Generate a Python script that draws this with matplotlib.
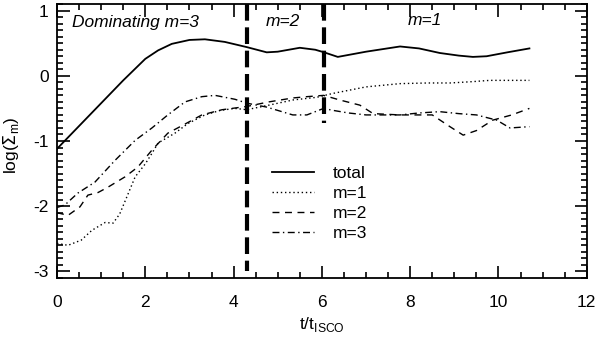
import matplotlib
matplotlib.use("Agg")
import matplotlib.pyplot as plt
from matplotlib.ticker import MultipleLocator

plt.rcParams["font.family"] = ["Liberation Sans", "DejaVu Sans"]
plt.rcParams["axes.unicode_minus"] = False

# ---- data ----
t_total = [0.0, 0.5, 1.0, 1.5, 2.0, 2.29, 2.6, 3.0, 3.35, 3.8, 4.3, 4.75, 5.0, 5.5,
           5.85, 6.05, 6.36, 7.0, 7.77, 8.2, 8.67, 9.1, 9.42, 9.73, 10.2, 10.7]
y_total = [-1.12, -0.77, -0.42, -0.07, 0.26, 0.39, 0.49, 0.55, 0.56, 0.52, 0.44, 0.36, 0.37, 0.43,
           0.40, 0.36, 0.29, 0.37, 0.45, 0.42, 0.35, 0.31, 0.29, 0.30, 0.36, 0.42]

t_m1 = [0.0, 0.25, 0.55, 0.79, 1.09, 1.27, 1.42, 1.58, 1.77, 2.0, 2.15, 2.29, 2.67, 2.97,
        3.35, 3.7, 4.03, 4.3, 4.8, 5.35, 5.88, 6.25, 7.0, 7.77, 8.4, 8.9, 9.4, 9.8, 10.7]
y_m1 = [-2.57, -2.6, -2.52, -2.37, -2.25, -2.26, -2.12, -1.86, -1.55, -1.35, -1.19, -1.03, -0.88, -0.73,
        -0.6, -0.53, -0.5, -0.52, -0.45, -0.37, -0.33, -0.27, -0.17, -0.12, -0.11, -0.11, -0.09, -0.07, -0.07]

t_m2 = [0.0, 0.25, 0.52, 0.7, 0.93, 1.15, 1.54, 1.83, 2.15, 2.51, 2.9, 3.28, 3.74, 4.3,
        4.8, 5.34, 5.66, 6.04, 6.4, 6.86, 7.16, 7.77, 8.5, 8.9, 9.2, 9.5, 9.87, 10.3, 10.7]
y_m2 = [-2.1, -2.14, -2.01, -1.83, -1.79, -1.71, -1.55, -1.4, -1.14, -0.88, -0.74, -0.6, -0.52, -0.47,
        -0.4, -0.34, -0.32, -0.3, -0.37, -0.45, -0.58, -0.6, -0.6, -0.78, -0.91, -0.84, -0.68, -0.6, -0.5]

t_m3 = [0.0, 0.18, 0.47, 0.86, 1.31, 1.77, 2.15, 2.51, 2.9, 3.28, 3.58, 4.03, 4.3, 4.75,
        5.34, 5.66, 6.04, 6.25, 6.6, 7.0, 7.77, 8.2, 8.67, 9.1, 9.5, 9.96, 10.26, 10.7]
y_m3 = [-2.02, -1.98, -1.8, -1.63, -1.3, -0.99, -0.8, -0.6, -0.4, -0.32, -0.3, -0.36, -0.42, -0.48,
        -0.6, -0.6, -0.5, -0.53, -0.57, -0.6, -0.6, -0.57, -0.55, -0.58, -0.6, -0.68, -0.8, -0.78]

# phase boundaries: (x position, lower end of the marker line)
bound_x = [4.3, 6.05]
bound_ymin = [-3.0, -0.72]

phase_labels = ["Dominating m=3", "m=2", "m=1"]
phase_x = [0.35, 5.12, 8.33]
phase_y = [0.82, 0.84, 0.85]

fig = plt.figure(figsize=(6.0, 3.41), dpi=100)
ax = fig.add_axes([0.095, 0.185, 0.883, 0.803])

ax.plot(t_total, y_total, color="black", lw=1.3, ls="-", label="total")
ax.plot(t_m1, y_m1, color="black", lw=1.0, ls=(0, (1, 2)), label="m=1")
ax.plot(t_m2, y_m2, color="black", lw=1.0, ls=(0, (5, 4)), label="m=2")
ax.plot(t_m3, y_m3, color="black", lw=1.0, ls=(0, (5, 2.5, 1, 2.5)), label="m=3")

for bx, bmin in zip(bound_x, bound_ymin):
    ax.plot([bx, bx], [1.1, bmin], color="black", lw=3.0, ls=(0, (4, 1.6)))

for lab, px, py in zip(phase_labels, phase_x, phase_y):
    ha = "left" if px < 1 else "center"
    ax.text(px, py, lab, style="italic", fontsize=12.5, ha=ha, va="center")

ax.set_xlim(0, 12)
ax.set_ylim(-3.1, 1.1)
ax.xaxis.set_major_locator(MultipleLocator(2))
ax.xaxis.set_minor_locator(MultipleLocator(0.5))
ax.yaxis.set_major_locator(MultipleLocator(1))
ax.yaxis.set_minor_locator(MultipleLocator(0.1))
ax.tick_params(which="both", direction="in", top=True, right=True, width=1.2, labelsize=12.5)
ax.tick_params(which="major", length=9)
ax.tick_params(which="minor", length=4.5)
ax.tick_params(axis="x", which="major", pad=12)
ax.tick_params(axis="y", which="major", pad=6)
for sp in ax.spines.values():
    sp.set_linewidth(1.3)

ax.set_xlabel(r"t/t$_{\mathregular{ISCO}}$", fontsize=12.5, labelpad=4)
ax.set_ylabel(r"log($\Sigma_{\mathregular{m}}$)", fontsize=12.5)
ax.yaxis.set_label_coords(-0.068, 0.485)

ax.legend(loc="upper left", bbox_to_anchor=(0.406, 0.41), frameon=False,
          borderpad=0, borderaxespad=0, handlelength=2.4, handletextpad=1.1,
          labelspacing=0.28, fontsize=12.5)

fig.savefig("out.png", dpi=100)
